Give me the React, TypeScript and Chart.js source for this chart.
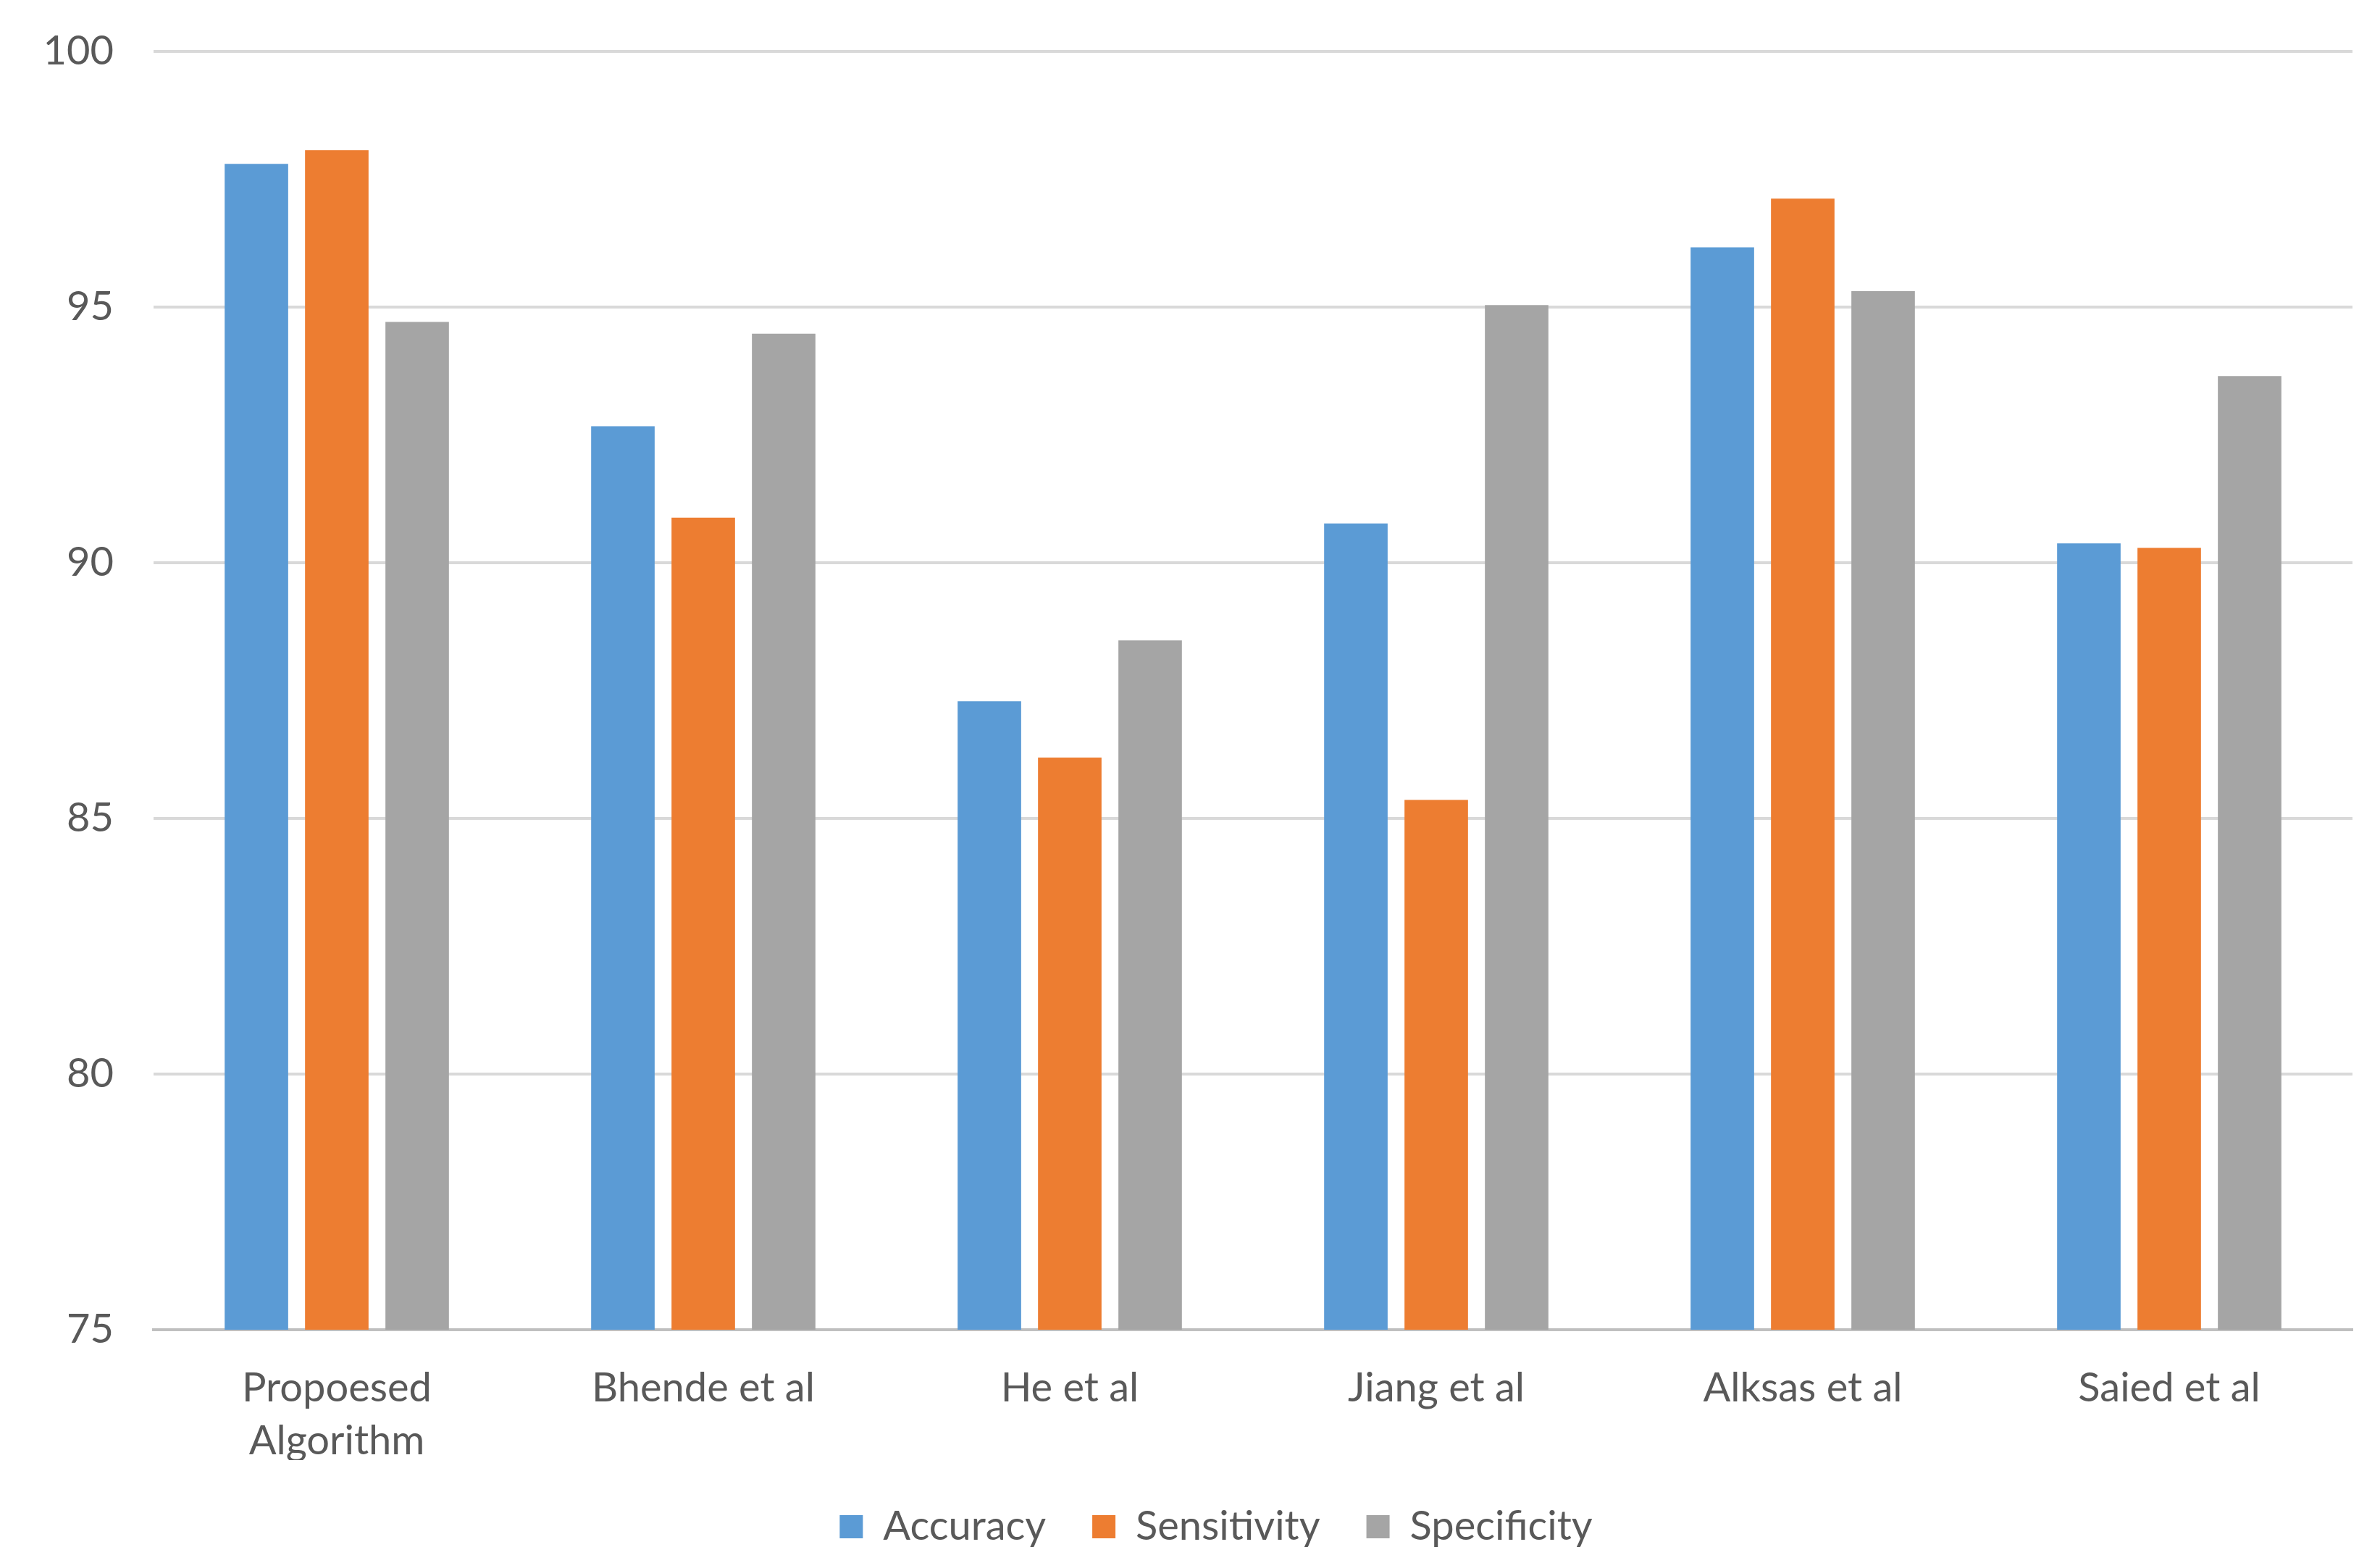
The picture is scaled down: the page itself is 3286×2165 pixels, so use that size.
import React, { useEffect, useRef } from "react";
import { Chart, registerables } from "chart.js";

Chart.register(...registerables);

const categories: (string | string[])[] = [
  ["Propoesed", "Algorithm"],
  "Bhende et al",
  "He et al",
  "Jiang et al",
  "Alksas et al",
  "Saied et al",
];
const accuracy = [97.8, 92.67, 87.29, 90.77, 96.17, 90.38];
const sensitivity = [98.07, 90.88, 86.19, 85.36, 97.12, 90.29];
const specificity = [94.71, 94.48, 88.48, 95.04, 95.31, 93.65];
const yTicks = [75, 80, 85, 90, 95, 100];

const W = 3286;
const H = 2165;
const FONT = "Lato";
const TEXT = "#595959";

const legendLayoutPlugin = {
  id: "fixedLegendLayout",
  beforeLayout(chart: any) {
    const lg = chart.legend;
    if (lg && !lg.__patched) {
      const orig = lg.fit.bind(lg);
      lg.fit = function () {
        orig();
        this.height = 129;
      };
      lg.__patched = true;
    }
  },
  afterLayout(chart: any) {
    const lg = chart.legend;
    if (lg) {
      lg.left += 55;
      lg.right += 55;
    }
  },
};

export default function App() {
  const ref = useRef<HTMLCanvasElement | null>(null);
  useEffect(() => {
    document.body.style.margin = "0";
    const ctx = ref.current!;
    const chart = new Chart(ctx, {
      type: "bar",
      data: {
        labels: categories,
        datasets: [
          { label: "Accuracy", data: accuracy, backgroundColor: "#5B9BD5" },
          { label: "Sensitivity", data: sensitivity, backgroundColor: "#ED7D31" },
          { label: "Specificity", data: specificity, backgroundColor: "#A5A5A5" },
        ],
      },
      plugins: [legendLayoutPlugin],
      options: {
        responsive: false,
        animation: false,
        devicePixelRatio: 1,
        datasets: { bar: { categoryPercentage: 0.658, barPercentage: 0.79 } },
        layout: { padding: { left: 0, right: 38, top: 71, bottom: 20 } },
        plugins: {
          tooltip: { enabled: false },
          legend: {
            position: "bottom",
            labels: {
              color: TEXT,
              font: { family: FONT, size: 56 },
              boxWidth: 32,
              boxHeight: 32,
              padding: 64,
            },
          },
        },
        scales: {
          x: {
            grid: { display: false },
            border: { color: "#BFBFBF", width: 4 },
            ticks: {
              color: TEXT,
              font: { family: FONT, size: 56, lineHeight: 1.3 },
              padding: 37,
              maxRotation: 0,
              autoSkip: false,
            },
            afterFit: (s: any) => {
              s.height = 180;
              s.paddingLeft = 0;
              s.paddingRight = 0;
            },
          },
          y: {
            min: 75,
            max: 100,
            afterBuildTicks: (s: any) => {
              s.ticks = yTicks.map((v) => ({ value: v }));
            },
            grid: { color: "#D9D9D9", lineWidth: 4, drawTicks: false },
            border: { display: false },
            ticks: {
              color: TEXT,
              font: { family: FONT, size: 56 },
              padding: 55,
            },
            afterFit: (s: any) => {
              s.width = 212;
              s.paddingTop = 0;
              s.paddingBottom = 0;
            },
          },
        },
      },
    });
    return () => chart.destroy();
  }, []);
  return (
    <div style={{ position: "absolute", left: 0, top: 0, width: W, height: H, background: "#fff" }}>
      <canvas ref={ref} width={W} height={H} style={{ width: W, height: H }} />
    </div>
  );
}
